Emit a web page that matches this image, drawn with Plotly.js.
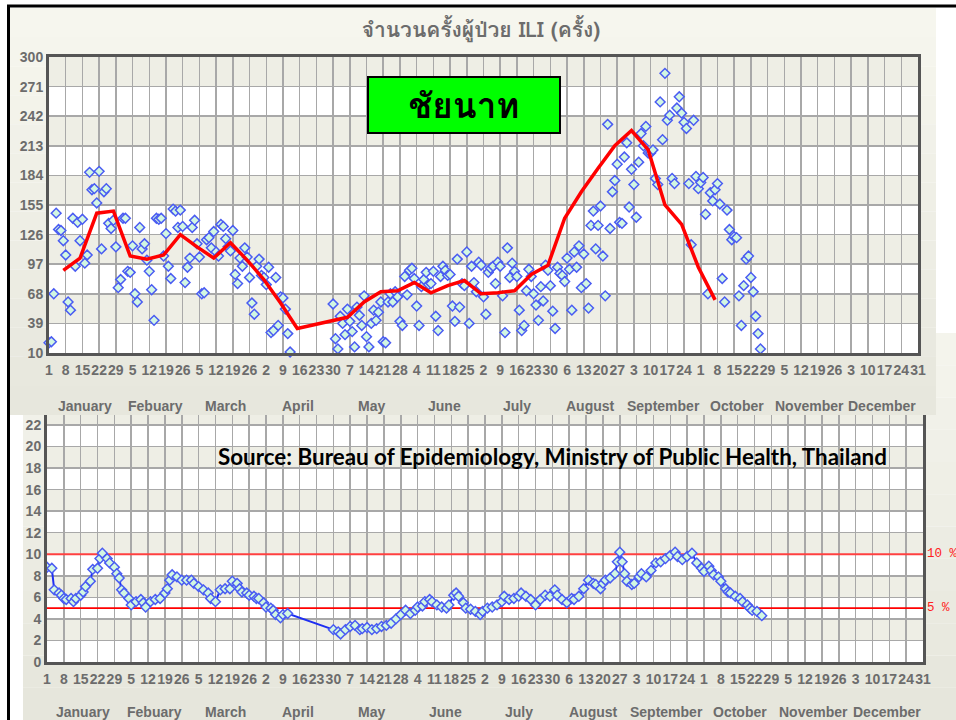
<!DOCTYPE html>
<html><head><meta charset="utf-8">
<script src="https://cdn.plot.ly/plotly-3.0.1.min.js"></script>
<style>html,body{margin:0;padding:0;background:#fff;}#chart{width:956px;height:720px;}</style>
</head><body><div id="chart"></div>
<script>
// ---------------- data ----------------
const province = 'ชัยนาท';
const chartTitle = 'จำนวนครั้งผู้ป่วย ILI (ครั้ง)';
const sourceNote = 'Source: Bureau of Epidemiology, Ministry of Public Health, Thailand';
const monthNames = ['January','Febuary','March','April','May','June','July','August','September','October','November','December'];
const monthLengths = [31,28,31,30,31,30,31,31,30,31,30,31];
const weekTickLabels = ['1','8','15','22','29','5','12','19','26','5','12','19','26','2','9','16','23','30','7','14','21','28','4','11','18','25','2','9','16','23','30','6','13','20','27','3','10','17','24','1','8','15','22','29','5','12','19','26','3','10','17','24','31'];
const countTicks = [10,39,68,97,126,155,184,213,242,271,300];
const pctTicks = [0,2,4,6,8,10,12,14,16,18,20,22];
const thresholds = [10,5];
const thresholdLabels = ['10 %','5 %'];

// daily ILI visits (top panel), first run starts Jan 1, second run starts day 120
const iliRun1Start = 1;
const iliRun1 = [20,21,68,147,131,130,120,106,60,52,
142,95,138,120,141,98,106,187,170,171,
157,188,112,168,171,137,132,140,114,74,
82,142,142,90,89,115,68,60,133,112,
117,101,90,72,42,142,141,142,105,127,
95,83,151,149,133,150,134,79,94,103,
133,140,117,104,68,69,121,123,113,129,
109,105,136,134,122,114,110,130,87,78,
103,95,113,104,84,59,48,95,102,86,
84,77,94,30,32,84,37,65,64,53,
29,11];
const iliRun2Start = 120;
const iliRun2 = [58,24,14,46,39,28,53,41,31,16,
55,47,37,66,26,16,39,52,42,50,
60,21,20,60,68,60,70,65,41,37,
85,67,91,93,83,56,37,75,82,89,
77,78,90,46,32,85,95,91,86,87,
56,41,102,55,78,76,109,39,95,79,
70,99,96,65,48,89,93,95,78,99,
95,66,30,113,84,98,90,85,52,32,
37,71,92,85,68,57,42,75,61,96,
91,76,51,34,94,88,86,80,103,92,
52,109,94,115,74,107,78,54,135,149,
112,135,154,105,66,234,132,168,179,195,
138,137,202,216,153,190,175,143,197,225,
213,232,206,206,209,181,175,256,219,284,
238,243,181,176,250,261,245,236,230,176,
116,238,183,171,177,182,146,68,167,159,
170,176,156,83,60,150,131,121,124,123,
66,37,76,102,105,84,70,46,29,14];

// weekly average (red line)
const weekEndDays = [7,14,21,28,35,42,49,56,63,70,77,84,91,98,105,119,126,133,140,147,154,161,168,175,182,189,196,203,210,217,224,231,238,245,252,259,266,273,280];
const weekAvg = [91,103,147,149,105,102,106,126,114,103,118,101,82,59,34,41,45,60,70,71,79,69,76,81,68,69,71,87,96,142,168,191,213,228,209,155,136,94,62];

// ILI percentage (bottom panel)
const pctDays = [1,3,4,6,7,8,9,11,12,13,15,16,17,19,20,22,23,24,26,27,29,30,31,32,33,35,36,38,40,41,42,44,46,48,50,51,52,53,55,57,59,61,62,64,66,68,69,71,73,75,77,78,80,81,82,84,85,87,88,89,91,92,94,95,96,98,99,101,
120,122,123,125,127,129,131,132,134,136,138,140,142,144,146,148,150,152,154,155,157,158,160,161,163,165,167,168,170,171,172,174,175,177,179,181,182,184,186,188,190,191,193,195,197,198,200,202,204,206,208,210,212,213,215,217,219,220,222,224,226,228,229,231,232,233,235,237,238,239,240,241,242,244,245,247,248,250,252,254,256,258,260,262,263,265,267,269,271,273,274,276,277,278,280,281,283,284,285,287,289,290,292,293,294,296,298];
const pctVals = [8.8,8.7,6.7,6.4,6.2,5.9,5.8,5.9,5.6,5.9,6.2,6.5,7.0,7.5,8.6,8.7,9.6,10.1,9.6,9.2,8.8,8.2,7.8,6.7,6.4,5.9,5.3,5.6,5.8,5.5,5.1,5.6,5.8,5.9,6.4,6.8,7.6,8.1,7.9,7.6,7.6,7.6,7.3,7.0,6.7,6.4,5.9,5.6,6.7,6.8,6.8,7.5,7.3,6.8,6.5,6.4,6.2,6.1,5.9,5.9,5.5,5.1,5.0,4.8,4.4,4.1,4.4,4.5,
3.0,2.8,2.6,3.0,3.3,3.4,3.0,3.1,3.2,3.0,3.1,3.3,3.4,3.6,4.0,4.4,4.8,4.5,4.8,5.1,5.2,5.6,5.8,5.6,5.3,5.1,5.0,5.3,6.2,6.4,6.1,5.5,5.0,4.9,4.7,4.4,4.7,5.0,5.1,5.3,5.6,6.1,5.8,5.9,6.1,6.4,6.1,5.8,5.3,5.8,6.2,6.1,6.7,6.2,5.8,5.5,5.9,5.8,6.1,6.8,7.6,7.3,7.2,6.8,7.3,7.6,7.8,8.2,9.3,10.2,9.3,8.2,7.5,7.2,7.3,7.9,8.2,7.9,8.5,9.2,9.3,9.6,9.9,10.2,9.8,9.5,9.8,10.1,9.2,8.7,8.4,8.9,8.5,8.1,7.9,7.5,6.8,6.5,6.4,6.1,5.9,5.6,5.3,5.0,4.8,4.7,4.3];

// ---------------- derived ----------------
const iliDays = [], iliVals = [];
iliRun1.forEach((v,i)=>{iliDays.push(iliRun1Start+i); iliVals.push(v);});
iliRun2.forEach((v,i)=>{iliDays.push(iliRun2Start+i); iliVals.push(v);});
const tickDays = weekTickLabels.map((_,i)=>1+7*i);
const lastDay = tickDays[tickDays.length-1];
const monthCenters = [];
let startDay = 1;
monthLengths.forEach(len=>{monthCenters.push(startDay+(len-1)/2); startDay+=len;});

// ---------------- layout helpers ----------------
const W=956, H=720;
const px=v=>v/W, py=v=>1-v/H;
const GREY='#6c6c6c';
const numFont={family:'Liberation Sans, Arial, sans-serif', size:14, color:GREY, weight:'bold'};
const BEIGE='#eeeee5';

function hex2rgb(h){return [1,3,5].map(i=>parseInt(h.substr(i,2),16));}
function mix(a,b,t){const A=hex2rgb(a),B=hex2rgb(b);return 'rgb('+A.map((v,i)=>Math.round(v+(B[i]-v)*t)).join(',')+')';}
function gradient(x0,x1,y0,y1,c0,c1,n){
  const out=[];
  for(let k=0;k<n;k++){
    const a=y0+(y1-y0)*k/n, b=y0+(y1-y0)*(k+1)/n;
    out.push({type:'rect',xref:'paper',yref:'paper',x0:px(x0),x1:px(x1),y0:py(b),y1:py(a),
      fillcolor:mix(c0,c1,k/(n-1)),line:{width:0},layer:'below'});
  }
  return out;
}

const shapes=[];
shapes.push(...gradient(23,W,333,H,'#f4f4ec','#e6e6dc',12));
shapes.push(...gradient(10,936,8,415,'#f6f6ee','#e7e7dd',14));
shapes.push({type:'line',xref:'paper',yref:'paper',x0:px(8.5),x1:px(8.5),y0:0,y1:py(5),line:{color:'#000',width:3},layer:'below'});
shapes.push({type:'line',xref:'paper',yref:'paper',x0:px(7),x1:1,y0:py(6),y1:py(6),line:{color:'#000',width:3},layer:'below'});

shapes.push({type:'rect',xref:'x',yref:'y',x0:1,x1:lastDay,y0:countTicks[0],y1:countTicks[countTicks.length-1],fillcolor:'#ffffff',line:{width:0},layer:'below'});
for(let k=1;k<countTicks.length-1;k+=2){
  shapes.push({type:'rect',xref:'x',yref:'y',x0:1,x1:lastDay,y0:countTicks[k],y1:countTicks[k+1],fillcolor:BEIGE,line:{width:0},layer:'below'});
}
const pctTop = 22.93;
shapes.push({type:'rect',xref:'x2',yref:'y2',x0:1,x1:lastDay,y0:0,y1:pctTop,fillcolor:'#ffffff',line:{width:0},layer:'below'});
for(let k=1;k<pctTicks.length;k+=2){
  const top = k+1<pctTicks.length ? pctTicks[k+1] : pctTop;
  shapes.push({type:'rect',xref:'x2',yref:'y2',x0:1,x1:lastDay,y0:pctTicks[k],y1:top,fillcolor:BEIGE,line:{width:0},layer:'below'});
}
thresholds.forEach((t,i)=>{
  shapes.push({type:'line',xref:'x2',yref:'y2',x0:1,x1:lastDay,y0:t,y1:t,line:{color:i===0?'#ff4040':'#ff0000',width:i===0?2:1.6},layer:'between'});
});

const annotations=[];
annotations.push({xref:'paper',yref:'paper',x:px(464),y:py(105),text:'<b>'+province+'</b>',showarrow:false,
  font:{family:'Tahoma, Loma, Garuda, "Noto Sans Thai", sans-serif',size:35,color:'#000'},
  bgcolor:'#00ff00',bordercolor:'#000',borderwidth:2,borderpad:0,width:190,height:54,xanchor:'center',yanchor:'middle'});
annotations.push({xref:'paper',yref:'paper',x:px(216),y:py(456),xanchor:'left',yanchor:'middle',showarrow:false,
  text:'<b>'+sourceNote+'</b>',font:{family:'Lato, "Open Sans", sans-serif',size:22.4,color:'#000'}});
thresholds.forEach((t,i)=>{
  annotations.push({xref:'paper',yref:'y2',x:px(925),y:t,xanchor:'left',yanchor:'middle',showarrow:false,
    text:thresholdLabels[i],font:{family:'Liberation Mono, DejaVu Sans Mono, monospace',size:12.5,color:'#ff2020'}});
});
monthNames.forEach((m,i)=>{
  annotations.push({xref:'x',yref:'paper',x:monthCenters[i],y:py(406),text:m,showarrow:false,yanchor:'middle',font:numFont});
  annotations.push({xref:'x2',yref:'paper',x:monthCenters[i],y:py(712),text:m,showarrow:false,yanchor:'middle',font:numFont});
});

const xCommon={range:[1,lastDay],tickvals:tickDays,ticktext:weekTickLabels,tickangle:0,ticks:'',
  showgrid:true,gridcolor:'#a8a8a8',gridwidth:1.5,zeroline:false,showline:true,linecolor:'#555555',linewidth:3,
  tickfont:numFont,fixedrange:true,ticklabelstandoff:2};
const layout={
  width:W,height:H,margin:{l:0,r:0,t:0,b:0},paper_bgcolor:'#ffffff',plot_bgcolor:'rgba(0,0,0,0)',
  showlegend:false,hovermode:false,
  title:{text:'<b>'+chartTitle+'</b>',x:px(481),xanchor:'center',xref:'paper',y:py(30),yref:'container',yanchor:'middle',
    font:{family:'Tahoma, Loma, Garuda, "Noto Sans Thai", sans-serif',size:21,color:GREY}},
  xaxis:Object.assign({},xCommon,{domain:[px(49),px(918)],anchor:'y',mirror:true}),
  yaxis:{domain:[py(353),py(57)],range:[countTicks[0],countTicks[countTicks.length-1]],tickvals:countTicks,ticks:'',
    showgrid:true,gridcolor:'#a8a8a8',gridwidth:1.5,zeroline:false,showline:true,mirror:true,linecolor:'#555555',linewidth:3,
    tickfont:numFont,anchor:'x',fixedrange:true},
  xaxis2:Object.assign({},xCommon,{domain:[px(47),px(923)],anchor:'y2',mirror:false}),
  yaxis2:{domain:[py(662),py(415)],range:[0,pctTop],tickvals:pctTicks,ticks:'',
    showgrid:true,gridcolor:'#a8a8a8',gridwidth:1.5,zeroline:false,showline:true,mirror:true,linecolor:'#555555',linewidth:3,
    tickfont:numFont,anchor:'x2',fixedrange:true},
  shapes:shapes,annotations:annotations
};

const markerStyle={symbol:'diamond',size:7.5,color:'#d2f7e2',line:{color:'#4a5cf2',width:1.5}};
const traces=[
  {type:'scatter',mode:'markers',x:iliDays,y:iliVals,xaxis:'x',yaxis:'y',marker:markerStyle,cliponaxis:false},
  {type:'scatter',mode:'lines',x:weekEndDays,y:weekAvg,xaxis:'x',yaxis:'y',line:{color:'#ff0000',width:3.5}},
  {type:'scatter',mode:'lines+markers',x:pctDays,y:pctVals,xaxis:'x2',yaxis:'y2',line:{color:'#1f2ff2',width:2},marker:markerStyle}
];
Plotly.newPlot('chart',traces,layout,{staticPlot:true,displayModeBar:false});
</script></body></html>
